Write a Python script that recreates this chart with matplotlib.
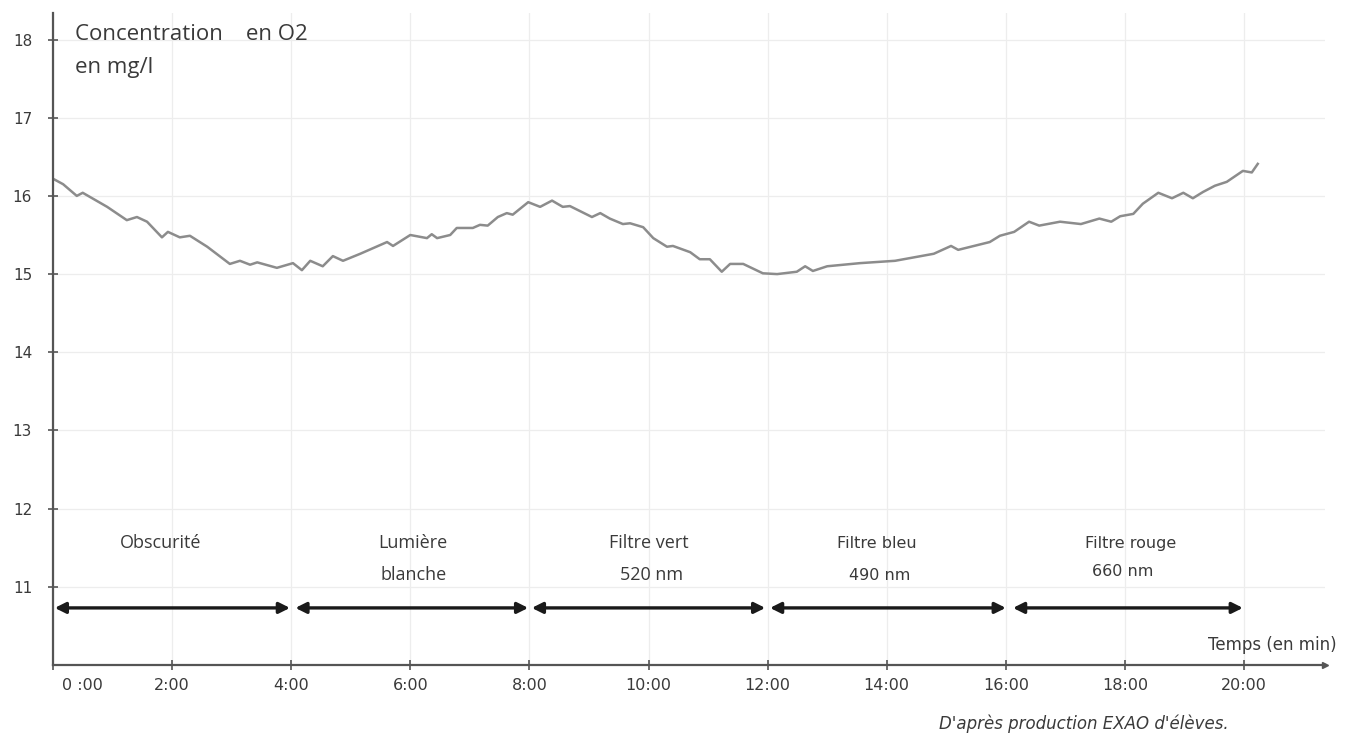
import numpy as np
import matplotlib.pyplot as plt
from matplotlib.transforms import ScaledTranslation

# time in minutes, O2 concentration in mg/l
t = [0.00, 0.17, 0.40, 0.50, 0.91, 1.24, 1.41, 1.58, 1.83, 1.93, 2.13, 2.30,
     2.59, 2.97, 3.14, 3.31, 3.43, 3.76, 4.03, 4.18, 4.32, 4.53, 4.70, 4.87,
     5.16, 5.61, 5.71, 6.00, 6.28, 6.36, 6.45, 6.67, 6.78, 7.05, 7.17, 7.30,
     7.47, 7.62, 7.72, 7.98, 8.18, 8.38, 8.56, 8.68, 9.05, 9.19, 9.35, 9.57,
     9.69, 9.91, 10.08, 10.31, 10.41, 10.70, 10.86, 11.03, 11.23, 11.37, 11.59,
     11.92, 12.16, 12.49, 12.63, 12.76, 13.00, 13.55, 14.14, 14.79, 15.08,
     15.20, 15.73, 15.90, 16.14, 16.39, 16.56, 16.91, 17.26, 17.57, 17.77,
     17.92, 18.14, 18.30, 18.56, 18.79, 18.98, 19.14, 19.31, 19.51, 19.71,
     19.98, 20.13, 20.23]
o2 = [16.22, 16.15, 16.00, 16.04, 15.86, 15.69, 15.73, 15.67, 15.47, 15.54,
      15.47, 15.49, 15.35, 15.13, 15.17, 15.12, 15.15, 15.08, 15.14, 15.05,
      15.17, 15.10, 15.23, 15.17, 15.26, 15.41, 15.36, 15.50, 15.46, 15.51,
      15.46, 15.50, 15.59, 15.59, 15.63, 15.62, 15.73, 15.78, 15.76, 15.92,
      15.86, 15.94, 15.86, 15.87, 15.73, 15.78, 15.71, 15.64, 15.65, 15.60,
      15.46, 15.35, 15.36, 15.28, 15.19, 15.19, 15.03, 15.13, 15.13, 15.01,
      15.00, 15.03, 15.10, 15.04, 15.10, 15.14, 15.17, 15.26, 15.36, 15.31,
      15.41, 15.49, 15.54, 15.67, 15.62, 15.67, 15.64, 15.71, 15.67, 15.74,
      15.77, 15.90, 16.04, 15.97, 16.04, 15.97, 16.05, 16.13, 16.18, 16.32,
      16.30, 16.41]

phase_start = [0.03, 4.07, 8.04, 12.04, 16.12]
phase_end = [3.98, 7.98, 11.96, 16.00, 19.98]
phase_line1 = ["Obscurité", "Lumière", "Filtre vert", "Filtre bleu", "Filtre rouge"]
phase_line2 = ["", "blanche", "520 nm", "490 nm", "660 nm"]
phase_x1 = [1.8, 6.05, 10.0, 13.84, 18.09]
phase_x2 = [1.8, 6.05, 10.05, 13.88, 17.97]

xticks = [0, 2, 4, 6, 8, 10, 12, 14, 16, 18, 20]
xlabels = ["0 :00", "2:00", "4:00", "6:00", "8:00", "10:00", "12:00", "14:00",
           "16:00", "18:00", "20:00"]
yticks = [11, 12, 13, 14, 15, 16, 17, 18]

fig = plt.figure(figsize=(13.51, 7.33), dpi=100)
ax = fig.add_axes([0.0392, 0.0928, 0.9416, 0.8895])
ax.set_xlim(0, 21.36)
ax.set_ylim(10, 18.34)

axcol = '#555555'
txtcol = '#3a3a3a'
for s in ['top', 'right']:
    ax.spines[s].set_visible(False)
for s in ['left', 'bottom']:
    ax.spines[s].set_color(axcol)
    ax.spines[s].set_linewidth(1.6)

ax.set_xticks(xticks)
ax.set_xticklabels(xlabels, fontsize=11.5, color=txtcol, family='DejaVu Sans')
ax.set_yticks(yticks)
ax.set_yticklabels([str(v) for v in yticks], fontsize=11, color=txtcol,
                   family='DejaVu Sans')
ax.tick_params(axis='both', direction='inout', length=7, width=1.2, color=axcol)
ax.tick_params(axis='x', pad=6)
ax.tick_params(axis='y', pad=11.5)
# first label "0 :00" sits a bit right of its tick
first = ax.get_xticklabels()[0]
first.set_transform(first.get_transform() +
                    ScaledTranslation(21 / 72, 0, fig.dpi_scale_trans))

ax.grid(True, color='#ededed', lw=0.9)
ax.set_axisbelow(True)

# arrow at the end of time axis
ax.plot(1, 10, ">", color=axcol, ms=4, transform=ax.get_yaxis_transform(),
        clip_on=False)

ax.plot(t, o2, color='#8c8c8c', lw=1.8)

arrow_y = 10.73
for a, b in zip(phase_start, phase_end):
    ax.annotate('', xy=(b, arrow_y), xytext=(a, arrow_y),
                arrowprops=dict(arrowstyle='<|-|>', color='#1a1a1a', lw=2.4,
                                mutation_scale=16, shrinkA=0, shrinkB=0))

for i in range(len(phase_line1)):
    fam = 'Open Sans' if i < 3 else 'DejaVu Sans'
    fs = 13 if i < 3 else 11.5
    ax.text(phase_x1[i], 11.56, phase_line1[i], ha='center', va='center',
            fontsize=fs, color=txtcol, family=fam)
    y2 = 11.15 if i < 4 else 11.2
    ax.text(phase_x2[i], y2, phase_line2[i], ha='center', va='center',
            fontsize=fs, color=txtcol, family=fam)

fig.text(75 / 1351, 1 - 35 / 733, "Concentration    en O2", ha='left',
         va='center', fontsize=16, color=txtcol, family='Open Sans')
fig.text(75 / 1351, 1 - 67 / 733, "en mg/l", ha='left', va='center',
         fontsize=16, color=txtcol, family='Open Sans')
fig.text(1337 / 1351, 1 - 645 / 733, "Temps (en min)", ha='right', va='center',
         fontsize=12, color=txtcol, family='DejaVu Sans')
fig.text(1084 / 1351, 1 - 724 / 733, "D'après production EXAO d'élèves.",
         ha='center', va='center', fontsize=12, style='italic',
         color=txtcol, family='DejaVu Sans')

fig.savefig("out.png", dpi=100)
